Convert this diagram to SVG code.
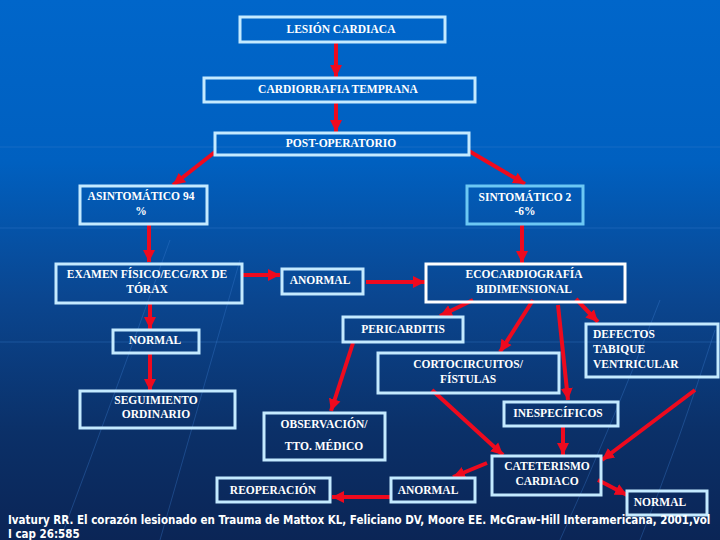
<svg xmlns="http://www.w3.org/2000/svg" width="720" height="540" viewBox="0 0 720 540">
<defs>
<linearGradient id="bg" x1="0" y1="0" x2="0" y2="1">
<stop offset="0" stop-color="#0066CA"/>
<stop offset="0.3" stop-color="#0060C0"/>
<stop offset="0.55" stop-color="#0A4690"/>
<stop offset="0.8" stop-color="#0B3068"/>
<stop offset="1" stop-color="#0B2556"/>
</linearGradient>
<marker id="ah" markerUnits="userSpaceOnUse" markerWidth="14" markerHeight="14" refX="12" refY="7" orient="auto" viewBox="0 0 14 14">
<path d="M0,1 L12,7 L0,13 Z" fill="#EE0A1E"/>
</marker>
<style>
.box{fill:none;stroke:#C4EAFF;stroke-width:3}
.wbox{fill:none;stroke:#FFFFFF;stroke-width:3}
.cbox{fill:none;stroke:#6CC8F4;stroke-width:3}
.t{font-family:"Liberation Serif","Times New Roman",serif;font-size:11.5px;font-weight:bold;fill:#FFFFFF;text-anchor:middle}
.tl{font-family:"Liberation Serif","Times New Roman",serif;font-size:11.5px;font-weight:bold;fill:#FFFFFF}
.c line{stroke:#EE0A1E;stroke-width:4;marker-end:url(#ah)}
.deco{stroke:#3C7FD0;stroke-width:1;opacity:0.35;fill:none}
.cite{font-family:"DejaVu Sans Condensed","DejaVu Sans",sans-serif;font-size:11.5px;font-weight:bold;fill:#FFFFFF}
</style>
</defs>
<rect x="0" y="0" width="720" height="540" fill="url(#bg)"/>
<g id="background-lines">
<line class="deco" x1="0" y1="147" x2="720" y2="147"/>
<line class="deco" x1="0" y1="228" x2="720" y2="228"/>
<line class="deco" x1="0" y1="342" x2="720" y2="342"/>
<path class="deco" d="M60,540 Q120,380 170,240"/>
<path class="deco" d="M160,540 Q200,400 240,260"/>
<path class="deco" d="M560,540 Q610,430 660,300"/>
<path class="deco" d="M640,540 Q680,440 715,330"/>
</g>
<g id="connectors" class="c">
<line x1="336" y1="43" x2="336" y2="77"/>
<line x1="336" y1="103" x2="336" y2="132"/>
<line x1="215" y1="152" x2="173" y2="185"/>
<line x1="469" y1="151" x2="525" y2="184"/>
<line x1="149" y1="225" x2="149" y2="262"/>
<line x1="522" y1="225" x2="522" y2="263"/>
<line x1="243" y1="275" x2="280" y2="275"/>
<line x1="366" y1="282" x2="425" y2="282"/>
<line x1="150" y1="304" x2="150" y2="329"/>
<line x1="150" y1="354" x2="150" y2="391"/>
<line x1="473" y1="300" x2="440" y2="316"/>
<line x1="533" y1="300" x2="500" y2="352"/>
<line x1="558" y1="305" x2="568" y2="400"/>
<line x1="576" y1="299" x2="598" y2="322"/>
<line x1="353" y1="343" x2="331" y2="411"/>
<line x1="432" y1="390" x2="503" y2="455"/>
<line x1="563" y1="427" x2="563" y2="455"/>
<line x1="695" y1="390" x2="602" y2="460"/>
<line x1="487" y1="463" x2="453" y2="477"/>
<line x1="391" y1="497" x2="332" y2="497"/>
<line x1="598" y1="480" x2="627" y2="495"/>
</g>
<g id="lesion"><rect class="box" x="240" y="17" width="205" height="25"/><text class="t" x="341" y="33">LESIÓN CARDIACA</text></g>
<g id="cardiorrafia"><rect class="box" x="204" y="78" width="271" height="24"/><text class="t" x="338" y="93">CARDIORRAFIA TEMPRANA</text></g>
<g id="postop"><rect class="box" x="215" y="133" width="254" height="22"/><text class="t" x="341" y="147">POST-OPERATORIO</text></g>
<g id="asintomatico"><rect class="box" x="80" y="186" width="127" height="38"/><text class="t" x="141" y="200">ASINTOMÁTICO 94</text><text class="t" x="141" y="215">%</text></g>
<g id="sintomatico"><rect class="cbox" x="467" y="186" width="116" height="38"/><text class="t" x="525" y="201">SINTOMÁTICO 2</text><text class="t" x="525" y="215">-6%</text></g>
<g id="examen"><rect class="box" x="56" y="264" width="186" height="39"/><text class="t" x="147" y="278">EXAMEN FÍSICO/ECG/RX DE</text><text class="t" x="147" y="293">TÓRAX</text></g>
<g id="anormal1"><rect class="box" x="282" y="269" width="81" height="25"/><text class="t" x="320" y="284">ANORMAL</text></g>
<g id="eco"><rect class="wbox" x="426" y="264" width="199" height="38"/><text class="t" x="524" y="278">ECOCARDIOGRAFÍA</text><text class="t" x="524" y="293">BIDIMENSIONAL</text></g>
<g id="normal1"><rect class="box" x="113" y="330" width="86" height="23"/><text class="t" x="155" y="344">NORMAL</text></g>
<g id="seguimiento"><rect class="box" x="80" y="391" width="155" height="37"/><text class="t" x="156" y="404">SEGUIMIENTO</text><text class="t" x="156" y="418">ORDINARIO</text></g>
<g id="pericarditis"><rect class="box" x="343" y="317" width="120" height="25"/><text class="t" x="403" y="333">PERICARDITIS</text></g>
<g id="cortocircuitos"><rect class="box" x="378" y="353" width="181" height="40"/><text class="t" x="468" y="368">CORTOCIRCUITOS/</text><text class="t" x="468" y="383">FÍSTULAS</text></g>
<g id="defectos"><rect class="box" x="586" y="324" width="132" height="53"/><text class="tl" x="593" y="338">DEFECTOS</text><text class="tl" x="593" y="353">TABIQUE</text><text class="tl" x="593" y="368">VENTRICULAR</text></g>
<g id="inespecificos"><rect class="box" x="504" y="402" width="114" height="24"/><text class="t" x="558" y="417">INESPECÍFICOS</text></g>
<g id="observacion"><rect class="box" x="264" y="413" width="121" height="47"/><text class="t" x="324" y="428">OBSERVACIÓN/</text><text class="t" x="324" y="450">TTO. MÉDICO</text></g>
<g id="cateterismo"><rect class="box" x="492" y="456" width="109" height="39"/><text class="t" x="547" y="470">CATETERISMO</text><text class="t" x="547" y="485">CARDIACO</text></g>
<g id="reoperacion"><rect class="box" x="217" y="478" width="113" height="24"/><text class="t" x="273" y="494">REOPERACIÓN</text></g>
<g id="anormal2"><rect class="box" x="391" y="478" width="84" height="24"/><text class="t" x="428" y="494">ANORMAL</text></g>
<g id="normal2"><rect class="box" x="627" y="491" width="80" height="24"/><text class="t" x="660" y="506">NORMAL</text></g>
<g id="citation">
<text class="cite" x="8" y="524">Ivatury RR. El corazón lesionado en Trauma de Mattox KL, Feliciano DV, Moore EE. McGraw-Hill Interamericana, 2001,vol</text>
<text class="cite" x="8" y="538" font-size="11">I cap 26:585</text>
</g>
</svg>
